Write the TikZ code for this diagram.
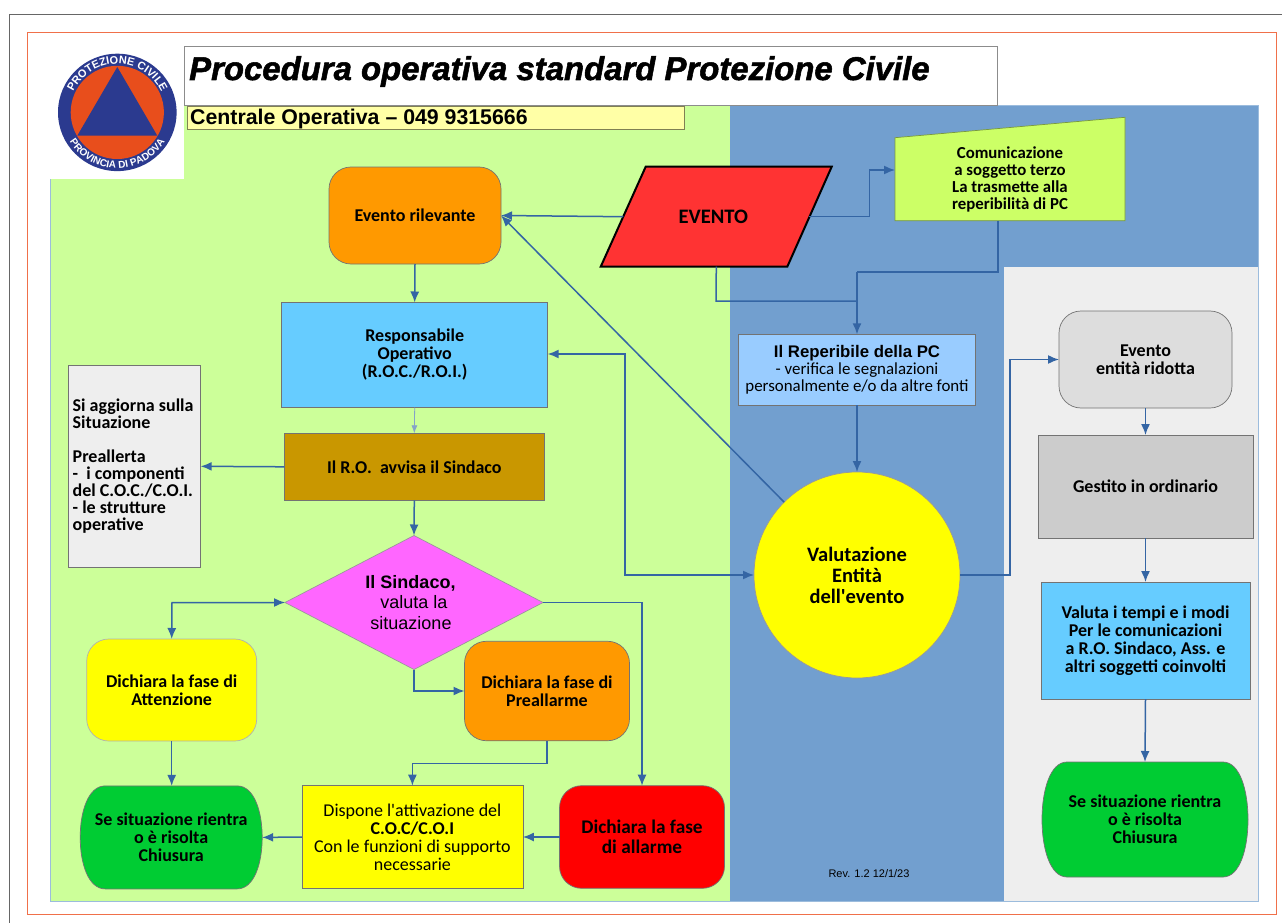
\documentclass[tikz,border=0pt]{standalone}
\usepackage{fontspec}
\setmainfont{Carlito}[Ligatures=TeXOff]
\newfontfamily\lib{Liberation Sans}
\newfontfamily\libheavy{Liberation Sans}[BoldItalicFeatures={FakeBold=1.6}]
\usetikzlibrary{shapes.geometric,arrows.meta,decorations.text,calc}
\definecolor{cpanelG}{HTML}{CCFF99}
\definecolor{cpanelB}{HTML}{729FCF}
\definecolor{cgray}{HTML}{EEEEEE}
\definecolor{cline}{HTML}{3465A4}
\definecolor{corange}{HTML}{FF9900}
\definecolor{csky}{HTML}{66CCFF}
\definecolor{cbrown}{HTML}{C99700}
\definecolor{cmag}{HTML}{FF66FF}
\definecolor{cpale}{HTML}{99CCFF}
\definecolor{clime}{HTML}{CCFF66}
\definecolor{cgreen}{HTML}{00CC33}
\definecolor{cyel}{HTML}{FFFFA6}
\definecolor{cframe}{HTML}{F0704A}
\definecolor{clogoB}{HTML}{2B3A8F}
\definecolor{clogoO}{HTML}{E84E1C}
\definecolor{cyellow}{HTML}{FFFF00}
\definecolor{cred}{HTML}{FF0000}
\definecolor{cevent}{HTML}{FF3333}
\definecolor{cgestito}{HTML}{CCCCCC}
\definecolor{cridotta}{HTML}{DDDDDD}
\tikzset{
  x=1pt,y=-1pt,
  shape border/.style={draw=black!55,line width=.7pt},
  boxn/.style={rectangle,shape border,inner sep=0pt,outer sep=0pt,align=center,text=black,
    font=\bfseries\fontsize{18}{18}\selectfont},
  roundn/.style={boxn,rounded corners=22pt},
  plainn/.style={inner sep=0pt,outer sep=0pt,align=center,text=black},
  conn/.style={draw=cline,line width=1.5pt,-{Latex[length=11pt,width=9pt]}},
  connb/.style={draw=cline,line width=1.5pt,{Latex[length=11pt,width=9pt]}-{Latex[length=11pt,width=9pt]}},
  connn/.style={draw=cline,line width=1.5pt},
}
\newcommand{\pill}[4]{% centre x, y, half width, half height
  \draw[fill=cgreen,draw=black!55,line width=.7pt] ($(#1,#2)+(-#3+25,-#4)$) -- ($(#1,#2)+(#3-25,-#4)$)
    .. controls ($(#1,#2)+(#3-8,-#4)$) and ($(#1,#2)+(#3,-#4*0.5)$) .. ($(#1,#2)+(#3,0)$)
    .. controls ($(#1,#2)+(#3,#4*0.5)$) and ($(#1,#2)+(#3-8,#4)$) .. ($(#1,#2)+(#3-25,#4)$)
    -- ($(#1,#2)+(-#3+25,#4)$)
    .. controls ($(#1,#2)+(-#3+8,#4)$) and ($(#1,#2)+(-#3,#4*0.5)$) .. ($(#1,#2)+(-#3,0)$)
    .. controls ($(#1,#2)+(-#3,-#4*0.5)$) and ($(#1,#2)+(-#3+8,-#4)$) .. ($(#1,#2)+(-#3+25,-#4)$) -- cycle;
}
\begin{document}
\begin{tikzpicture}
\useasboundingbox (0,0) rectangle (1282,923);
\fill[white] (0,0) rectangle (1282,923);
% frames
\draw[black!60,line width=1pt] (9,923) -- (9,14.5) -- (1282,14.5);
\draw[cframe,line width=1pt] (27.5,32.5) rectangle (1276,914);
% panels
\fill[cpanelG] (50,105) rectangle (730,901);
\fill[cpanelB] (730,105) rectangle (1258,901);
\fill[cgray] (1004,267) rectangle (1258,901);
\draw[cpanelB!70!white,line width=.7pt] (50,105) rectangle (1258,901);
% logo
\fill[white] (50,45) rectangle (184,179);
\begin{scope}[x=1pt,y=1pt,shift={(117.3pt,-112.4pt)}]
  \fill[clogoB] (0,0) ellipse [x radius=59.3pt,y radius=58.7pt];
  \fill[clogoO] (0,0) circle [radius=46.6pt];
  \fill[clogoB] (0,45.4) -- (40,-23.3) -- (-40,-23.3) -- cycle;
  \path[decorate,decoration={text along path,text color=white,
    text={|\lib\bfseries\fontsize{11}{11}\selectfont|PROTEZIONE CIVILE},text align=center}]
    (165:48.5) arc [start angle=165,end angle=15,radius=48.5];
  \path[decorate,decoration={text along path,text color=white,
    text={|\lib\bfseries\fontsize{10}{10}\selectfont|PROVINCIA DI PADOVA},text align=center}]
    (200:56) arc [start angle=200,end angle=340,radius=56];
\end{scope}
% title
\draw[fill=white,draw=black!45,line width=.8pt] (184,46) rectangle (997,105);
\node[anchor=base west,inner sep=0pt,font=\libheavy\bfseries\itshape\fontsize{32.9}{33}\selectfont] (title) at (189,80) {Procedura operativa standard Protezione Civile};
\draw[fill=cyel,draw=black!50!cyel,line width=.8pt] (187,106) rectangle (684,129);
\node[anchor=base west,inner sep=0pt,font=\lib\bfseries\fontsize{21.3}{22}\selectfont] (centrale) at (190,124.5) {Centrale Operativa – 049 9315666};
% nodes
\node[roundn,fill=corange,minimum width=172pt,minimum height=97pt] (rilevante) at (415,215.5) {Evento rilevante};
\node[boxn,fill=csky,minimum width=266pt,minimum height=105pt] (resp) at (414.7,355) {Responsabile\\Operativo\\(R.O.C./R.O.I.)};
\node[boxn,fill=cbrown,minimum width=260pt,minimum height=67pt] (ro) at (414.3,466.8) {Il R.O.~~avvisa il Sindaco};
\node[boxn,fill=cgray,minimum width=132pt,minimum height=202pt,text width=124pt,align=flush left,font=\bfseries\fontsize{18}{17}\selectfont] (note) at (134.7,466.3) {Si aggiorna sulla\\Situazione\\[17pt]Preallerta\\-~~i componenti\\del C.O.C./C.O.I.\\- le strutture\\operative};
\node[diamond,draw=black!40,line width=.7pt,fill=cmag,aspect=1.925,minimum width=258pt,minimum height=134pt,inner sep=0pt,outer sep=0pt,align=center,font=\lib\fontsize{18}{20.5}\selectfont] (sindaco) at (414,602.5) {\textbf{Il Sindaco,}\hspace*{7pt}\\valuta la\\situazione\hspace*{6pt}};
\node[roundn,fill=cyellow,minimum width=170pt,minimum height=102pt,draw=black!30] (attenzione) at (171.7,690) {Dichiara la fase di\\Attenzione};
\node[roundn,fill=corange,minimum width=165pt,minimum height=99.5pt] (preallarme) at (547,691) {Dichiara la fase di\\Preallarme};
\pill{171.2}{837.4}{91}{51.5}
\node[plainn,minimum width=182pt,minimum height=103pt,font=\bfseries\fontsize{18}{18}\selectfont] (greenL) at (171.2,837.4) {Se situazione rientra\\o è risolta\\Chiusura};
\node[boxn,fill=cyellow,minimum width=221pt,minimum height=102.6pt,font=\fontsize{18}{18}\selectfont] (dispone) at (412.4,837) {Dispone l'attivazione del\\\textbf{C.O.C/C.O.I}\\Con le funzioni di supporto\\necessarie};
\node[roundn,fill=cred,minimum width=165pt,minimum height=102.6pt,font=\bfseries\fontsize{19.3}{19.5}\selectfont] (allarme) at (642,837) {Dichiara la fase\\di allarme};
\fill[cevent,draw=black,line width=2pt,line join=miter] (645.7,166.7) -- (831.7,166.7) -- (787.3,266.7) -- (600.7,266.7) -- cycle;
\node[plainn,minimum width=186pt,minimum height=100pt,font=\bfseries\fontsize{20.6}{22}\selectfont] (evento) at (716.3,216.7) {EVENTO\hspace*{6pt}};
\fill[clime,draw=black!40!clime,line width=.7pt] (895,137.7) -- (1125,117.3) -- (1125,220.7) -- (895,220.7) -- cycle;
\node[plainn,minimum width=230pt,minimum height=83pt,font=\bfseries\fontsize{16.8}{17}\selectfont] (terzo) at (1010,179) {Comunicazione\\a soggetto terzo\\La trasmette alla\\reperibilità di PC};
\node[boxn,fill=cpale,minimum width=236.6pt,minimum height=71pt,font=\fontsize{16.9}{17}\selectfont] (reper) at (857,369.8) {{\lib\bfseries\fontsize{16.8}{17}\selectfont Il Reperibile della PC}\\- verifica le segnalazioni\\personalmente e/o da altre fonti};
\node[circle,draw=black!40,line width=.7pt,fill=cyellow,minimum size=206pt,inner sep=0pt,outer sep=0pt,align=center,font=\bfseries\fontsize{20.5}{21}\selectfont] (valut) at (857,575) {Valutazione\\Entità\\dell'evento};
\node[roundn,fill=cridotta,minimum width=173pt,minimum height=97pt] (ridotta) at (1145.5,359.5) {Evento\\entità ridotta};
\node[boxn,fill=cgestito,minimum width=215pt,minimum height=103pt] (gestito) at (1145.5,486.5) {Gestito in ordinario};
\node[boxn,fill=csky,minimum width=209pt,minimum height=117pt] (valuta) at (1145.5,640.5) {Valuta i tempi e i modi\\Per le comunicazioni\\a R.O. Sindaco, Ass. e\\altri soggetti coinvolti};
\pill{1145}{819.5}{103}{57.5}
\node[plainn,minimum width=206pt,minimum height=115pt,font=\bfseries\fontsize{18}{18}\selectfont] (greenR) at (1145,819.5) {Se situazione rientra\\o è risolta\\Chiusura};
\node[inner sep=0pt,font=\lib\fontsize{11}{13}\selectfont] (rev) at (869,874) {Rev. 1.2 12/1/23};
% connectors
\coordinate (jt) at (857,272);
\coordinate (je) at (857,301);
\draw[conn] (evento.west) -- (rilevante.east);
\draw[conn] (evento.east) -- ++(60,0) |- ([yshift=9pt]terzo.west);
\draw[connn] (terzo.south -| 998,0) -- (998,272) -- (jt);
\draw[conn] (jt) -- (reper.north);
\draw[connn] (evento.south) -- (716,301) -- (je);
\draw[conn] (reper.south) -- (valut.north);
\draw[conn] (valut.135) -- (rilevante.east);
\draw[connb] (resp.east |- 0,354) -- (625,354) -- (625,575) -- (valut.west);
\draw[conn] (valut.east) -- (1010,575) |- (ridotta.west);
\draw[conn] (rilevante.south) -- (resp.north);
\draw[-{Latex[length=8pt,width=6pt]},draw=cline!60!white,line width=.8pt] (resp.south) -- (ro.north);
\draw[conn] (ro.west) -- (note.east);
\draw[conn] (ro.south) -- (sindaco.north);
\draw[connb] (sindaco.west) -- (172,602.5) -- (attenzione.north);
\draw[conn] (sindaco.south) |- (preallarme.west);
\draw[conn] (sindaco.east) -- (642,602.5) -- (allarme.north);
\draw[conn] (attenzione.south) -- (greenL.north -| attenzione.south);
\draw[conn] (preallarme.south) -- (547,763.5) -- (412.4,763.5) -- (dispone.north);
\draw[conn] (allarme.west) -- (dispone.east);
\draw[conn] (dispone.west) -- (greenL.east);
\draw[conn] (ridotta.south) -- (gestito.north);
\draw[conn] (gestito.south) -- (valuta.north);
\draw[conn] (valuta.south) -- (greenR.north);
\end{tikzpicture}
\end{document}
